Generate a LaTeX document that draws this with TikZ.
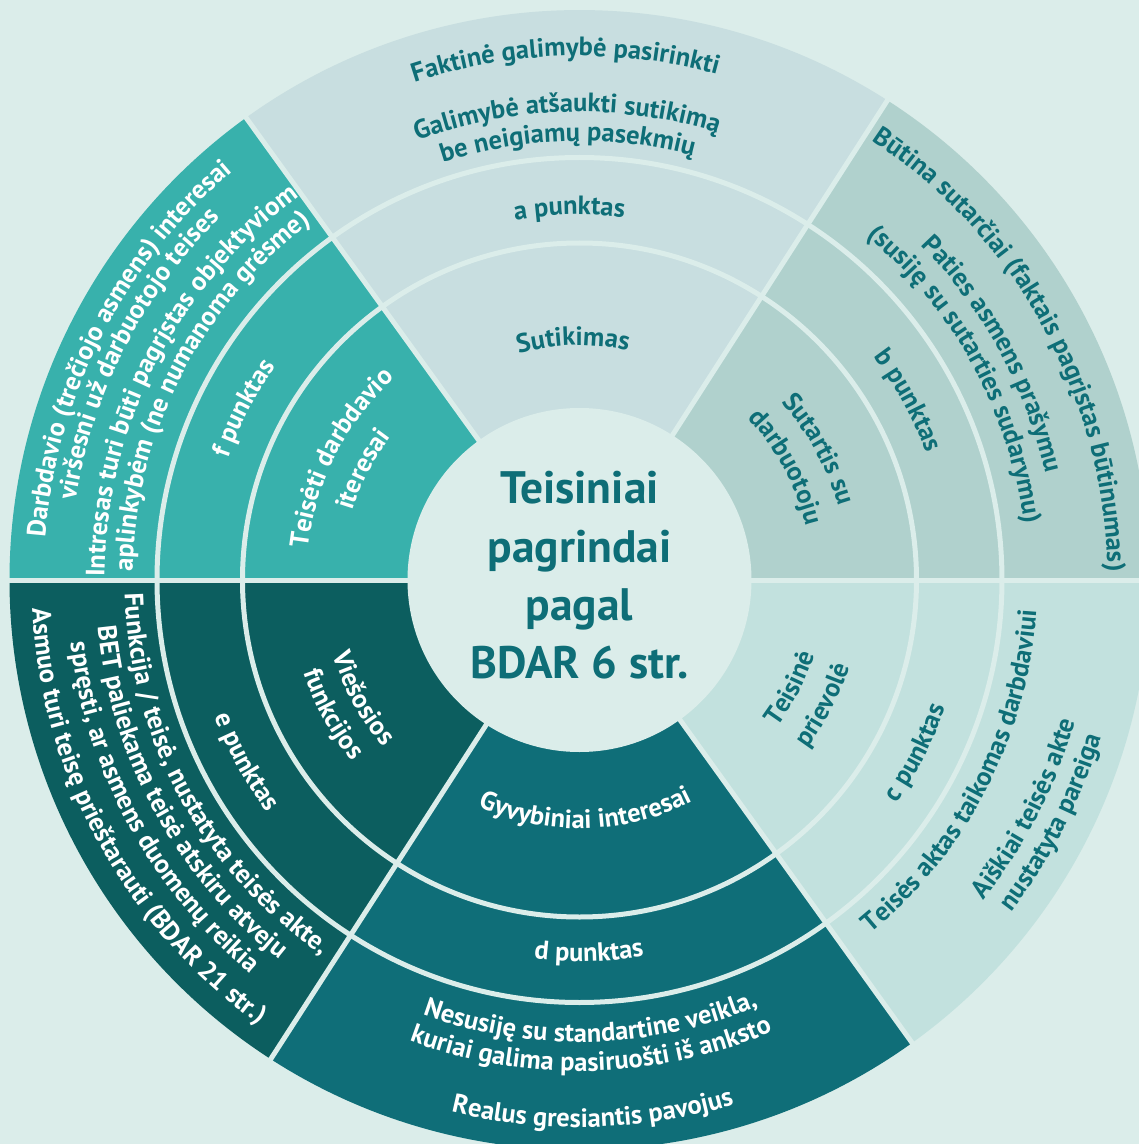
\documentclass[tikz,border=0pt]{standalone}
\usepackage{fontspec}
\setmainfont{PT Sans}
\usetikzlibrary{decorations.text}
\definecolor{bg}{HTML}{DBEDEA}
\definecolor{cA}{HTML}{C8DEE0}
\definecolor{cB}{HTML}{B0D1CD}
\definecolor{cC}{HTML}{C2E1DE}
\definecolor{cD}{HTML}{0F6E78}
\definecolor{cE}{HTML}{0C5E5F}
\definecolor{cF}{HTML}{38B1AC}
\definecolor{tdark}{HTML}{0E6E77}
\newcommand\lblfont{\fontsize{26.5}{28}\selectfont\bfseries}
\newcommand\cwt[4]{\path[decorate,decoration={text along path,text align=center,text color=#3,text={|\lblfont|#4}}] (#1+80:#2) arc[start angle=#1+80,end angle=#1-80,radius=#2];}
\newcommand\ccwt[4]{\path[decorate,decoration={text along path,text align=center,text color=#3,text={|\lblfont|#4}}] (#1-80:#2) arc[start angle=#1-80,end angle=#1+80,radius=#2];}
\tikzset{
  sep/.style={draw=bg,line width=5pt},
  title/.style={font=\fontsize{45.5}{58}\selectfont\bfseries,text=tdark,anchor=base,inner sep=0pt}
}
\begin{document}
\begin{tikzpicture}[x=1pt,y=1pt]
\useasboundingbox (-579.5,-564) rectangle (559.5,580);
\fill[bg] (-579.5,-564) rectangle (559.5,580);
% sectors
\fill[cB] (0,0) -- (0:570) arc[start angle=0,end angle=57.3,radius=570] -- cycle;
\fill[cA] (0,0) -- (57.3:570) arc[start angle=57.3,end angle=125.8,radius=570] -- cycle;
\fill[cF] (0,0) -- (125.8:570) arc[start angle=125.8,end angle=180,radius=570] -- cycle;
\fill[cE] (0,0) -- (180:570) arc[start angle=180,end angle=237.2,radius=570] -- cycle;
\fill[cD] (0,0) -- (237.2:570) arc[start angle=237.2,end angle=305.7,radius=570] -- cycle;
\fill[cC] (0,0) -- (305.7:570) arc[start angle=305.7,end angle=360,radius=570] -- cycle;
% separators
\draw[sep] (0,0) circle[radius=337];
\draw[sep] (0,0) circle[radius=422.5];
\foreach \a in {0,57.3,125.8,180,237.2,305.7} \draw[sep] (0,0) -- (\a:576);
\fill[bg] (0,0) circle[radius=172];
% title
\node[title] (t1) at (0,77) {Teisiniai};
\node[title] (t2) at (0,18) {pagrindai};
\node[title] (t3) at (0,-40) {pagal};
\node[title] (t4) at (0,-98) {BDAR 6 str.};
% top sector
\cwt{91.55}{234.5}{tdark}{Sutikimas}
\cwt{91.55}{365.5}{tdark}{a punktas}
\cwt{91.55}{524}{tdark}{Faktinė galimybė pasirinkti}
\cwt{91.55}{468}{tdark}{Galimybė atšaukti sutikimą}
\cwt{91.55}{439}{tdark}{be neigiamų pasekmių}
% right sector
\cwt{28.65}{269}{tdark}{Sutartis su}
\cwt{28.65}{233}{tdark}{darbuotoju}
\cwt{28.65}{369}{tdark}{b punktas}
\cwt{28.65}{528}{tdark}{Būtina sutarčiai (faktais pagrįstas būtinumas)}
\cwt{28.65}{478}{tdark}{Paties asmens prašymu}
\cwt{28.65}{448}{tdark}{(susiję su sutarties sudarymu)}
% f sector
\cwt{152.9}{273.5}{white}{Teisėti darbdavio}
\cwt{152.9}{237}{white}{iteresai}
\cwt{152.9}{371.5}{white}{f punktas}
\cwt{152.9}{536}{white}{Darbdavio (trečiojo asmens) interesai}
\cwt{152.9}{510}{white}{viršesni už darbuotojo teises}
\cwt{152.9}{475}{white}{Intresas turi būti pagrįstas objektyviom}
\cwt{152.9}{447}{white}{aplinkybėm (ne numanoma grėsme)}
% e sector
\ccwt{208.6}{257.5}{white}{Viešosios}
\ccwt{208.6}{291}{white}{funkcijos}
\ccwt{208.6}{389.5}{white}{e punktas}
\ccwt{208.6}{455}{white}{Funkcija / teisė, nustatyta teisės akte,}
\ccwt{208.6}{484}{white}{BET paliekama teisė atskiru atveju}
\ccwt{208.6}{513}{white}{spręsti, ar asmens duomenų reikia}
\ccwt{208.6}{548}{white}{Asmuo turi teisę prieštarauti (BDAR 21 str.)}
% d sector
\ccwt{271.45}{248.5}{white}{Gyvybiniai interesai}
\ccwt{271.45}{381.5}{white}{d punktas}
\ccwt{271.45}{462}{white}{Nesusiję su standartine veikla,}
\ccwt{271.45}{491}{white}{kuriai galima pasiruošti iš anksto}
\ccwt{271.45}{547}{white}{Realus gresiantis pavojus}
% c sector
\ccwt{332.85}{246.5}{tdark}{Teisinė}
\ccwt{332.85}{283.5}{tdark}{prievolė}
\ccwt{332.85}{387.5}{tdark}{c punktas}
\ccwt{332.85}{458}{tdark}{Teisės aktas taikomas darbdaviui}
\ccwt{332.85}{515.5}{tdark}{Aiškiai teisės akte}
\ccwt{332.85}{544.5}{tdark}{nustatyta pareiga}
\end{tikzpicture}
\end{document}
